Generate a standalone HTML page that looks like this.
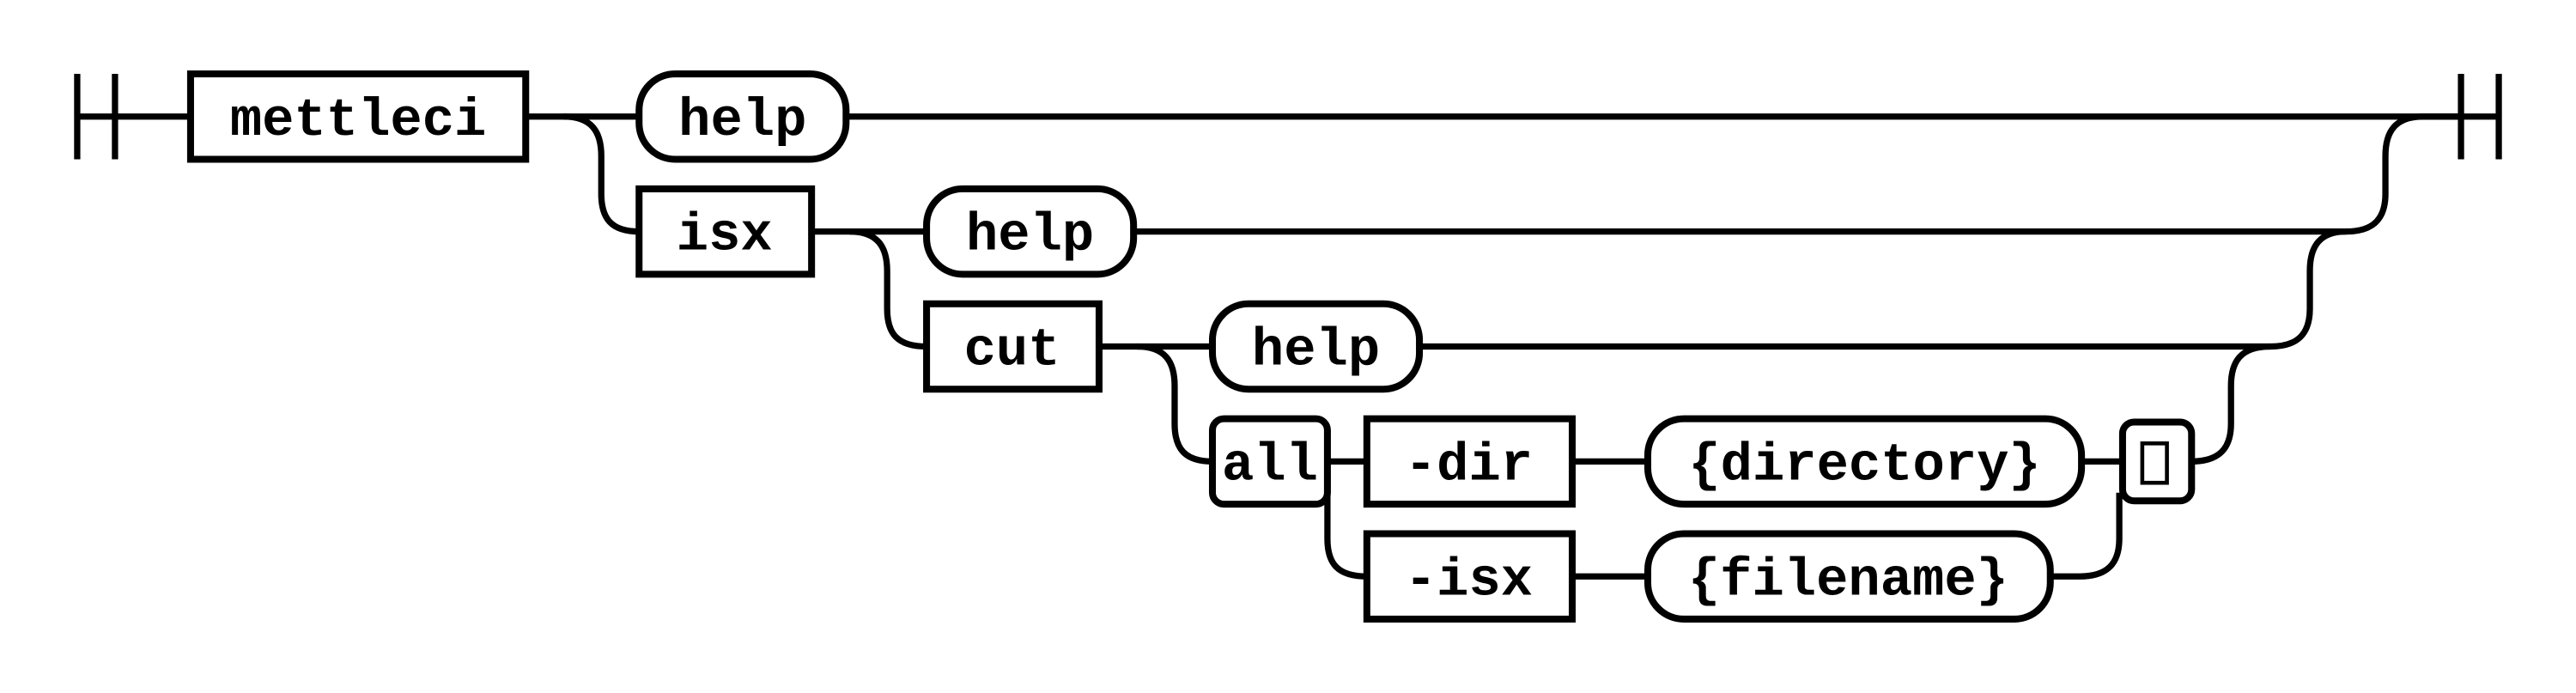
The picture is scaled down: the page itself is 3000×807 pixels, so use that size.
<!DOCTYPE html>
<html><head><meta charset="utf-8"><style>
html,body{margin:0;padding:0;background:#fff;}
svg{display:block;}
text{font-family:"Liberation Mono",monospace;font-weight:bold;font-size:32.5px;fill:#000;}
</style></head><body>
<svg width="3000" height="807" viewBox="0 0 1568 422" preserveAspectRatio="none" xmlns="http://www.w3.org/2000/svg">
<g fill="none" stroke="#000" stroke-width="3.8">
<path d="M47 45V97M70 45V97M47 71H116"/>
<path d="M1498 45V97M1521 45V97M1475 71H1521"/>
<path d="M320 71H389M515 71H1498"/>
<path d="M343 71C360 71 366 80 366 95V118C366 133 372 141 389 141"/>
<path d="M494 141H564M690 141H1428C1445 141 1452 133 1452 118V95C1452 80 1458 71 1475 71"/>
<path d="M517 141C534 141 540 150 540 165V188C540 203 546 211 564 211"/>
<path d="M669 211H738M864 211H1382C1399 211 1406 203 1406 188V165C1406 150 1412 141 1428 141"/>
<path d="M692 211C709 211 715 220 715 235V258C715 273 721 281 738 281"/>
<path d="M808 281H832M957 281H1003M1267 281H1292"/>
<path d="M808 300V328C808 343 814 351 832 351"/>
<path d="M957 351H1003M1248 351H1266C1283 351 1290 343 1290 328V300"/>
<path d="M1334 281C1351 281 1358 273 1358 258V235C1358 220 1364 211 1382 211"/>
</g>
<g fill="#fff" stroke="#000" stroke-width="4.2">
<rect x="116" y="45" width="204" height="52"/>
<rect x="389" y="45" width="126" height="52" rx="22"/>
<rect x="389" y="115" width="105" height="52"/>
<rect x="564" y="115" width="126" height="52" rx="22"/>
<rect x="564" y="185" width="105" height="52"/>
<rect x="738" y="185" width="126" height="52" rx="22"/>
<rect x="738" y="255" width="70" height="52" rx="7"/>
<rect x="832" y="255" width="125" height="52"/>
<rect x="1003" y="255" width="264" height="52" rx="22"/>
<rect x="1292" y="257" width="42" height="48" rx="7"/>
<rect x="832" y="325" width="125" height="52"/>
<rect x="1003" y="325" width="245" height="52" rx="22"/>
</g>
<rect x="1304" y="270" width="15" height="24" fill="none" stroke="#000" stroke-width="2.4"/>
<g text-anchor="middle">
<text x="218" y="82">mettleci</text>
<text x="452" y="82">help</text>
<text x="441" y="152">isx</text>
<text x="627" y="152">help</text>
<text x="616" y="222">cut</text>
<text x="801" y="222">help</text>
<text x="773" y="292">all</text>
<text x="894" y="292">-dir</text>
<text x="1135" y="292">{directory}</text>
<text x="894" y="362">-isx</text>
<text x="1125" y="362">{filename}</text>
</g>
</svg>
</body></html>
